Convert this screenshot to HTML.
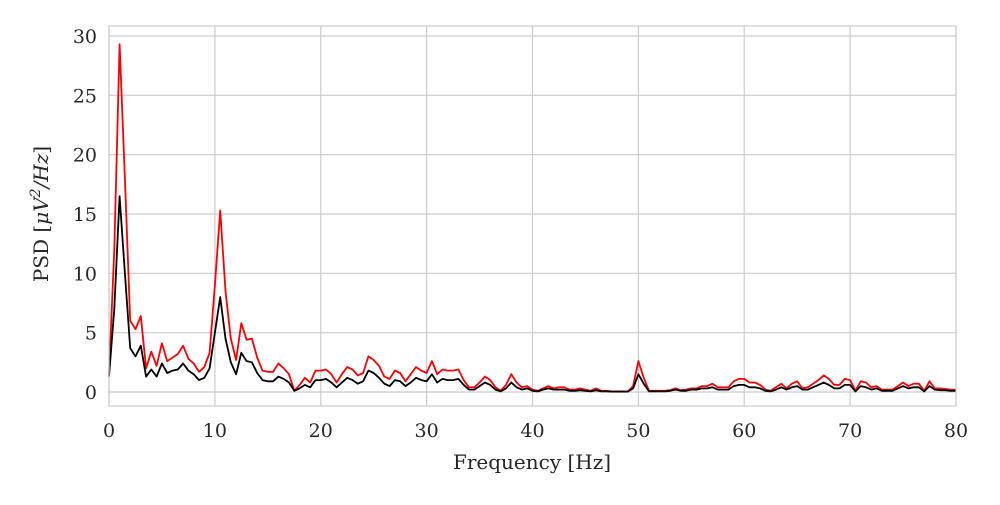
<!DOCTYPE html>
<html><head><meta charset="utf-8"><style>
body{margin:0;background:#fff;}
svg text{font-family:"DejaVu Serif","Liberation Serif",serif;fill:#262626;}
</style></head><body>
<svg id="chart" width="1000" height="500" xmlns="http://www.w3.org/2000/svg">
<rect width="1000" height="500" fill="#fff"/>
<g id="grid"></g>
<g id="ticks"></g>
<g id="series"></g>
<rect x="109" y="26" width="847" height="380" fill="none" stroke="#ccc" stroke-width="1.2"/>
<text x="532" y="469" font-size="20" text-anchor="middle">Frequency [Hz]</text>
<text transform="translate(48,214) rotate(-90)" font-size="20" text-anchor="middle">PSD [<tspan font-style="italic">μV</tspan><tspan font-size="14" dy="-8" font-style="italic">2</tspan><tspan dy="8" font-style="italic">/Hz</tspan>]</text>
</svg>
<script>
const xTicks=[0,10,20,30,40,50,60,70,80];
const yTicks=[0,5,10,15,20,25,30];
const freqStep=0.5;
const redPsd=[1.5,12,29.3,18,6,5.3,6.4,2,3.4,2.2,4.1,2.6,2.9,3.2,3.9,2.8,2.4,1.7,2.1,3.3,9,15.3,8.5,4.5,2.7,5.8,4.4,4.5,2.9,1.8,1.7,1.7,2.4,2,1.5,0.1,0.6,1.2,0.8,1.8,1.8,1.9,1.5,0.8,1.5,2.1,1.9,1.4,1.6,3.0,2.7,2.2,1.3,1.1,1.8,1.6,0.9,1.5,2.1,1.8,1.6,2.6,1.5,1.9,1.8,1.8,1.9,1.0,0.4,0.4,0.8,1.3,1.0,0.4,0.1,0.6,1.5,0.8,0.4,0.5,0.2,0.1,0.3,0.5,0.3,0.4,0.4,0.2,0.2,0.3,0.2,0.1,0.3,0.1,0.1,0.05,0.05,0.05,0.05,0.5,2.6,1.2,0.1,0.1,0.1,0.1,0.15,0.3,0.15,0.2,0.3,0.3,0.5,0.5,0.7,0.4,0.4,0.4,0.9,1.1,1.1,0.8,0.8,0.6,0.2,0.1,0.4,0.7,0.3,0.7,0.9,0.3,0.4,0.7,1.0,1.4,1.1,0.6,0.6,1.1,1.0,0.1,0.9,0.8,0.4,0.5,0.2,0.2,0.2,0.5,0.8,0.5,0.7,0.7,0.1,0.9,0.3,0.3,0.25,0.2,0.2];
const blackPsd=[1.3,7,16.5,10,3.7,3.0,3.9,1.3,1.9,1.3,2.4,1.6,1.8,1.9,2.4,1.8,1.5,1.0,1.2,2.0,5.0,8.0,4.5,2.5,1.5,3.3,2.6,2.5,1.6,1.0,0.9,0.9,1.3,1.1,0.8,0.1,0.3,0.6,0.4,1.0,1.0,1.1,0.8,0.4,0.8,1.2,1.0,0.7,0.9,1.8,1.6,1.2,0.7,0.5,1.0,0.9,0.5,0.8,1.2,1.0,0.9,1.5,0.8,1.1,1.0,1.0,1.1,0.6,0.2,0.2,0.5,0.8,0.6,0.2,0.05,0.3,0.8,0.4,0.2,0.3,0.1,0.05,0.2,0.3,0.2,0.2,0.2,0.1,0.1,0.15,0.1,0.05,0.15,0.05,0.05,0.03,0.03,0.03,0.03,0.3,1.5,0.7,0.05,0.05,0.05,0.05,0.1,0.2,0.1,0.1,0.2,0.2,0.3,0.3,0.4,0.2,0.2,0.2,0.5,0.6,0.6,0.4,0.4,0.3,0.1,0.05,0.2,0.4,0.2,0.4,0.5,0.2,0.2,0.4,0.6,0.8,0.6,0.3,0.3,0.6,0.6,0.05,0.5,0.4,0.2,0.3,0.1,0.1,0.1,0.3,0.5,0.3,0.4,0.4,0.05,0.5,0.2,0.15,0.15,0.1,0.1];

const NS="http://www.w3.org/2000/svg";
const X0=109,X1=956,Y0=392,Y30=36;
const xs=v=>X0+(v-0)/(80-0)*(X1-X0);
const ys=v=>Y0+(v-0)/(30-0)*(Y30-Y0);
function mk(tag,attrs,parent){const e=document.createElementNS(NS,tag);for(const k in attrs)e.setAttribute(k,attrs[k]);parent.appendChild(e);return e;}
const grid=document.getElementById('grid'),ticks=document.getElementById('ticks'),series=document.getElementById('series');
xTicks.forEach(t=>{
  const l=mk('line',{x1:xs(t),x2:xs(t),y1:26,y2:406,stroke:'#ccc','stroke-width':1.2},grid);
  
  
  const tx=mk('text',{x:xs(t),y:437,'font-size':19,'text-anchor':'middle'},ticks);
  tx.textContent=t;
  
  
});
yTicks.forEach(t=>{
  const l=mk('line',{x1:109,x2:956,y1:ys(t),y2:ys(t),stroke:'#ccc','stroke-width':1.2},grid);
  
  
  const tx=mk('text',{x:97,y:ys(t)+7,'font-size':19,'text-anchor':'end'},ticks);
  tx.textContent=t;
  
  
});
function draw(arr,color,name){
  const pts=arr.map((v,i)=>xs(i*freqStep).toFixed(1)+','+ys(v).toFixed(1)).join(' ');
  const p=mk('polyline',{points:pts,fill:'none',stroke:color,'stroke-width':1.8,'stroke-linejoin':'round'},series);
  
  
}
draw(redPsd,'#ff0000','red-psd-line');
draw(blackPsd,'#000000','black-psd-line');
</script>
</body></html>
